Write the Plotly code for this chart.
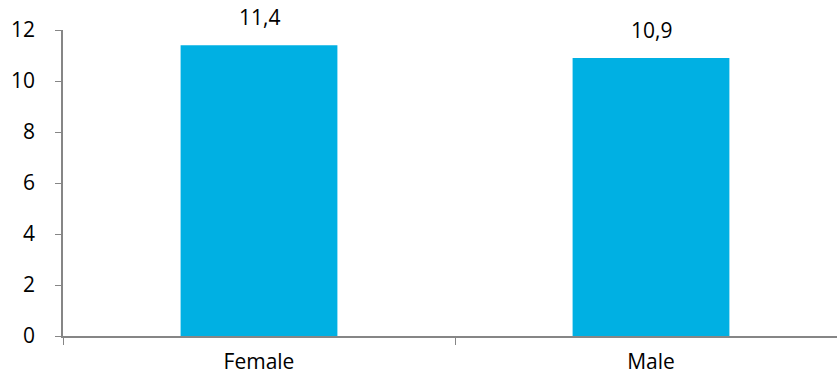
import plotly.graph_objects as go

categories = ["Female", "Male"]
values = [11.4, 10.9]
labels = ["11,4", "10,9"]

FONT = "Open Sans, sans-serif"
SIZE = 21

fig = go.Figure(go.Bar(
    x=categories, y=values,
    marker=dict(color="#00B0E3", line=dict(width=0)),
    width=0.4,
))

for c, v, t in zip(categories, values, labels):
    fig.add_annotation(x=c, y=v, text=t, showarrow=False, yanchor="bottom",
                       yshift=12, font=dict(family=FONT, size=SIZE, color="#000000"))

fig.update_layout(
    width=837, height=385,
    margin=dict(l=63, r=0, t=30, b=49),
    paper_bgcolor="white", plot_bgcolor="white",
    font=dict(family=FONT, size=SIZE, color="#000000"),
    showlegend=False,
)
fig.update_xaxes(
    range=[-0.5, -0.5 + 774 / 392], showgrid=False,
    showline=True, linecolor="#868686", linewidth=1.5,
    ticks="outside", tickson="boundaries", ticklen=7, tickcolor="#868686",
    ticklabelstandoff=6,
)
fig.update_yaxes(
    range=[0, 12], dtick=2, showgrid=False, zeroline=False,
    showline=True, linecolor="#868686", linewidth=1.5,
    ticks="outside", ticklen=6, tickcolor="#868686",
    ticklabelstandoff=16,
)
fig.write_html("out.html")
